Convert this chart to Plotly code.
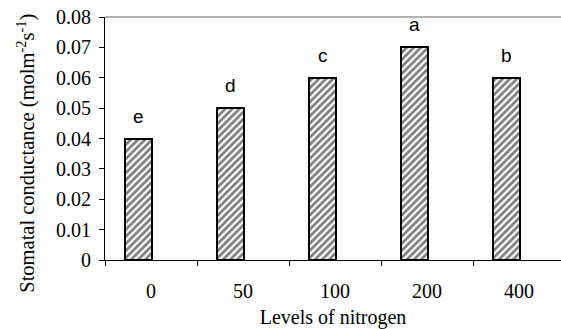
import plotly.graph_objects as go

levels = ["0", "50", "100", "200", "400"]
conductance = [0.04, 0.05, 0.06, 0.07, 0.06]
letters = ["e", "d", "c", "a", "b"]

BAR_SHIFT = -0.135
BAR_W = 0.3

fig = go.Figure()
fig.add_trace(go.Bar(
    x=levels, y=conductance,
    width=BAR_W, offset=BAR_SHIFT - BAR_W / 2,
    marker=dict(color="white",
                line=dict(color="black", width=2),
                pattern=dict(shape="/", fgcolor="black", bgcolor="white",
                             size=5, solidity=0.55, fillmode="overlay")),
    showlegend=False,
))

for i, (v, t) in enumerate(zip(conductance, letters)):
    fig.add_annotation(x=i + BAR_SHIFT, y=v, text=t, showarrow=False,
                       xref="x", yref="y", yanchor="bottom", yshift=10,
                       font=dict(family="Liberation Sans, Arial", size=19, color="black"))

fig.add_shape(type="line", xref="paper", yref="paper", x0=0, x1=1, y0=1, y1=1,
              line=dict(color="#666666", width=1.2))

fig.add_annotation(
    text="Stomatal conductance (molm<sup>-2</sup>s<sup>-1</sup>)",
    textangle=-90, showarrow=False, xref="paper", yref="paper",
    x=-0.174, y=0.44, xanchor="center", yanchor="middle",
    font=dict(family="Liberation Serif, Times New Roman", size=20.5, color="black"),
)

fig.update_layout(
    width=561, height=329,
    margin=dict(l=105, r=0, t=17, b=69),
    paper_bgcolor="white", plot_bgcolor="white",
    font=dict(family="Liberation Serif, Times New Roman", size=20, color="black"),
    bargap=0,
)
fig.update_xaxes(
    type="category", range=[-0.5, 4.5 - 4 / 92],
    showline=True, linecolor="black", linewidth=1.2,
    ticks="outside", tickson="boundaries", ticklen=5, tickcolor="black", tickwidth=1.2,
    showgrid=False, zeroline=False, ticklabelstandoff=13,
    title=dict(text="Levels of nitrogen", standoff=9,
               font=dict(size=20)),
    tickfont=dict(size=20),
)
fig.update_yaxes(
    range=[0, 0.08], dtick=0.01, tick0=0,
    showline=True, linecolor="black", linewidth=1.2,
    ticks="outside", ticklen=5, tickcolor="black", tickwidth=1.2,
    showgrid=False, zeroline=False,
    tickfont=dict(size=20), ticklabelstandoff=4,
)

fig.write_html("out.html")
